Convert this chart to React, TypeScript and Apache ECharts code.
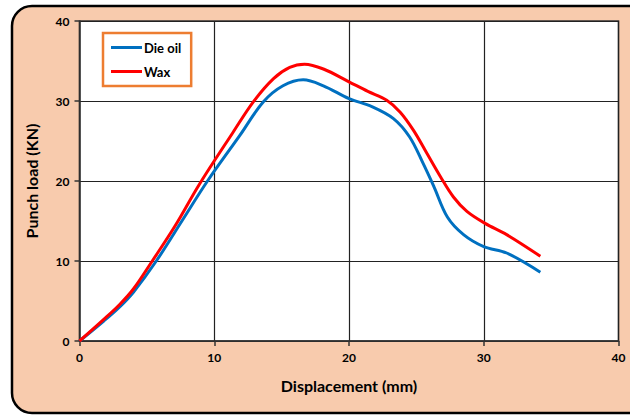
import React, { useEffect, useRef } from "react";
import * as echarts from "echarts";

const xTicks = [0, 10, 20, 30, 40];
const yTicks = [0, 10, 20, 30, 40];

const dieOil: [number, number][] = [
  [0, 0], [1.8, 2.5], [3, 4.3], [4, 6.1], [5.7, 10], [7.6, 15], [9.5, 20],
  [11.9, 25.7], [13.65, 29.9], [15.1, 31.9], [16.6, 32.65], [18.1, 31.9], [20, 30.3],
  [21.7, 29.3], [23.3, 27.8], [24.5, 25.5], [25.5, 22.2], [26.3, 19.3], [27.3, 15.5],
  [28.5, 13.3], [30, 11.8], [31.7, 11.0], [34.2, 8.6],
];

const wax: [number, number][] = [
  [0, 0], [1.8, 2.7], [3, 4.6], [4, 6.5], [5.4, 10], [7.1, 14.4], [8.9, 19.6],
  [11.4, 26.1], [12.9, 29.9], [14.4, 32.8], [15.6, 34.2], [16.7, 34.6], [18.1, 34.0],
  [20, 32.4], [21.4, 31.2], [22.8, 30.1], [23.8, 28.6], [24.8, 26.3], [25.8, 23.4],
  [26.8, 20.5], [27.75, 18.0], [28.75, 16.2], [30.1, 14.7], [31.7, 13.3], [34.2, 10.6],
];

const FONT = "Lato, 'Open Sans', sans-serif";

export default function App() {
  const ref = useRef<HTMLDivElement>(null);
  useEffect(() => {
    if (!ref.current) return;
    const chart = echarts.init(ref.current, undefined, { renderer: "svg" });
    chart.setOption({
      animation: false,
      backgroundColor: "#ffffff",
      graphic: {
        elements: [
          {
            type: "rect",
            z: -100,
            silent: true,
            shape: { x: 12, y: 6, width: 640, height: 407, r: 20 },
            style: { fill: "#F8CBAD", stroke: "#000000", lineWidth: 2.5 },
          },
        ],
      },
      grid: {
        left: 79.5,
        right: 11.5,
        top: 21,
        bottom: 77,
        show: true,
        backgroundColor: "#ffffff",
        borderColor: "#333",
        borderWidth: 1.5,
      },
      legend: {
        left: 103,
        top: 33,
        orient: "vertical",
        backgroundColor: "#ffffff",
        borderColor: "#ED7D31",
        borderWidth: 2.5,
        borderRadius: 0,
        padding: [8, 10, 8, 8],
        itemGap: 11,
        itemWidth: 31,
        itemHeight: 3,
        icon: "rect",
        textStyle: { fontFamily: FONT, fontWeight: "bold", fontSize: 13, color: "#000", padding: [0, 0, 0, -3] },
        data: ["Die oil", "Wax"],
      },
      xAxis: {
        type: "value",
        min: xTicks[0],
        max: xTicks[xTicks.length - 1],
        interval: 10,
        name: "Displacement (mm)",
        nameLocation: "middle",
        nameGap: 36,
        nameTextStyle: { fontFamily: FONT, fontWeight: "bold", fontSize: 16, color: "#000" },
        axisLine: { lineStyle: { color: "#333", width: 1.5 } },
        axisTick: { show: true, length: 5, lineStyle: { color: "#333", width: 1.5 } },
        axisLabel: { fontFamily: FONT, fontWeight: "bold", fontSize: 12, color: "#000", margin: 10 },
        splitLine: { show: true, lineStyle: { color: "#222", width: 1.2 } },
      },
      yAxis: {
        type: "value",
        min: yTicks[0],
        max: yTicks[yTicks.length - 1],
        interval: 10,
        name: "Punch load (KN)",
        nameLocation: "middle",
        nameGap: 40,
        nameTextStyle: { fontFamily: FONT, fontWeight: "bold", fontSize: 16, color: "#000" },
        axisLine: { show: true, lineStyle: { color: "#333", width: 1.5 } },
        axisTick: { show: true, length: 5, lineStyle: { color: "#333", width: 1.5 } },
        axisLabel: { fontFamily: FONT, fontWeight: "bold", fontSize: 12, color: "#000", margin: 10 },
        splitLine: { show: true, lineStyle: { color: "#222", width: 1.2 } },
      },
      series: [
        {
          name: "Die oil",
          type: "line",
          data: dieOil,
          smooth: 0.35,
          showSymbol: false,
          symbol: "none",
          lineStyle: { color: "#0070C0", width: 3 },
          itemStyle: { color: "#0070C0" },
          z: 3,
        },
        {
          name: "Wax",
          type: "line",
          data: wax,
          smooth: 0.35,
          showSymbol: false,
          symbol: "none",
          lineStyle: { color: "#FF0000", width: 3 },
          itemStyle: { color: "#FF0000" },
          z: 4,
        },
      ],
    });
    return () => chart.dispose();
  }, []);
  return (
    <div
      ref={ref}
      style={{ position: "fixed", left: 0, top: 0, width: 630, height: 418 }}
    />
  );
}
